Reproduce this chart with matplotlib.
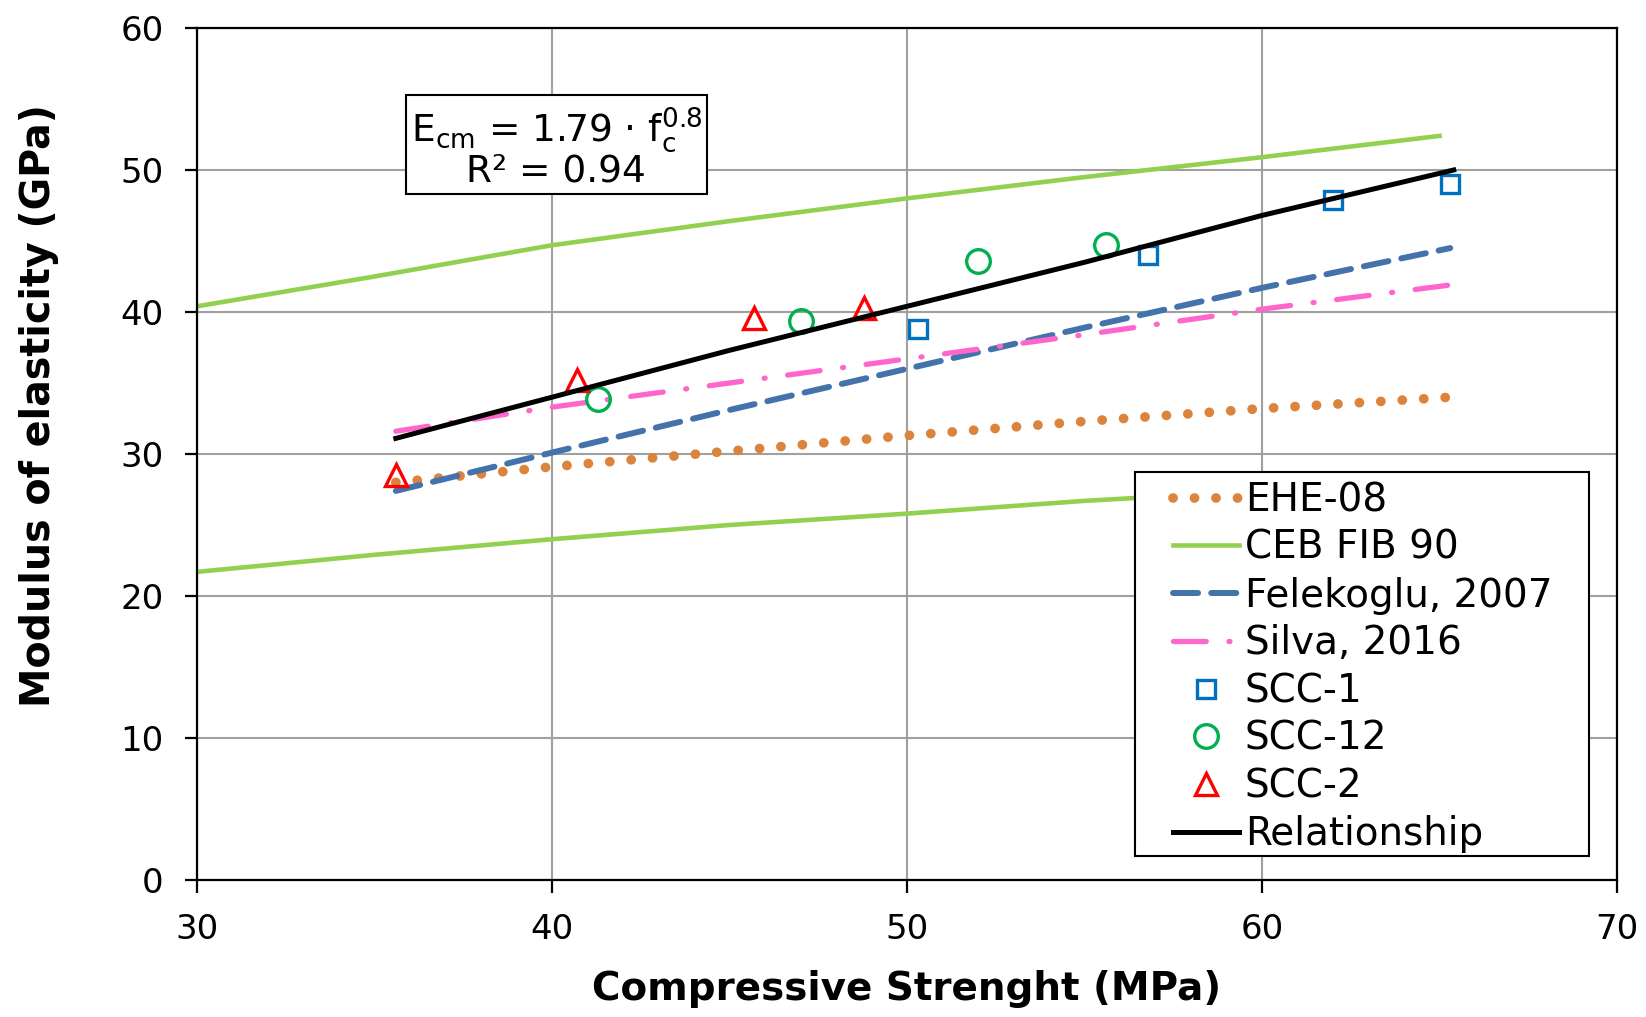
import matplotlib.pyplot as plt
from matplotlib.patches import Rectangle

plt.rcParams['font.family'] = ['DejaVu Sans']

scc1_x = [50.3, 56.8, 62.0, 65.3]
scc1_y = [38.8, 44.0, 47.9, 49.0]
scc12_x = [41.3, 47.0, 52.0, 55.6]
scc12_y = [33.9, 39.4, 43.6, 44.7]
scc2_x = [35.6, 40.7, 45.7, 48.8]
scc2_y = [28.5, 35.2, 39.6, 40.3]

# code / literature curves
ehe_x = [35.6, 40, 45, 50, 55, 60, 65.3]
ehe_y = [28.0, 29.1, 30.2, 31.3, 32.3, 33.2, 34.0]
ceb_x = [30, 35, 40, 45, 50, 55, 60, 65]
ceb_hi = [40.4, 42.5, 44.7, 46.4, 48.0, 49.5, 50.9, 52.4]
ceb_lo = [21.7, 22.9, 24.0, 25.0, 25.8, 26.7, 27.4, 28.1]
fel_x = [35.6, 40, 45, 50, 55, 60, 65.3]
fel_y = [27.4, 30.1, 33.1, 36.0, 38.9, 41.7, 44.5]
sil_x = [35.6, 40, 45, 50, 55, 60, 65.3]
sil_y = [31.6, 33.3, 35.0, 36.7, 38.4, 40.2, 41.9]
rel_x = [35.6, 40, 45, 50, 55, 60, 65.4]
rel_y = [31.1, 34.0, 37.3, 40.4, 43.5, 46.8, 50.0]

fig = plt.figure(figsize=(16.46, 10.17), dpi=100)
ax = fig.add_axes([0.1197, 0.1347, 0.8627, 0.8378])

ax.plot(ehe_x, ehe_y, color='#DD843C', lw=7, dashes=(0.01, 2.2),
        dash_capstyle='round', label='EHE-08')
ax.plot(ceb_x, ceb_hi, color='#92D050', lw=3.3, label='CEB FIB 90')
ax.plot(ceb_x, ceb_lo, color='#92D050', lw=3.3)
ax.plot(fel_x, fel_y, color='#4472AA', lw=4.3, dashes=(4.2, 2.2),
        dash_capstyle='round', label='Felekoglu, 2007')
ax.plot(sil_x, sil_y, color='#FF66CC', lw=3.8, dashes=(6.2, 4.3, 0.2, 4.3),
        dash_capstyle='round', label='Silva, 2016')
ax.plot(scc1_x, scc1_y, ls='none', marker='s', ms=13.5, mfc='none',
        mec='#0070C0', mew=2.4, label='SCC-1')
ax.plot(scc12_x, scc12_y, ls='none', marker='o', ms=17, mfc='none',
        mec='#00B050', mew=2.4, label='SCC-12')
ax.plot(scc2_x, scc2_y, ls='none', marker='^', ms=15.5, mfc='none',
        mec='#FF0000', mew=2.4, label='SCC-2')
ax.plot(rel_x, rel_y, color='black', lw=3.6, label='Relationship')

ax.set_xlim(30, 70)
ax.set_ylim(0, 60)
ax.set_xticks(range(30, 71, 10))
ax.set_yticks(range(0, 61, 10))
ax.grid(True, color='#A0A0A0', lw=1.5)
ax.set_axisbelow(True)
for s in ax.spines.values():
    s.set_color('black')
    s.set_linewidth(1.6)
ax.tick_params(labelsize=24.5, length=9, width=1.6, direction='out', pad=15)

ax.set_xlabel('Compressive Strenght (MPa)', fontsize=28, fontweight='bold')
ax.set_ylabel('Modulus of elasticity (GPa)', fontsize=28.5, fontweight='bold')
ax.xaxis.set_label_coords(0.5, -0.106)
ax.yaxis.set_label_coords(-0.097, 0.557)

ax.text(40.12, 51.6,
        r'E$_{\mathregular{cm}}$ = 1.79 · f$_{\mathregular{c}}^{\mathregular{0.8}}$'
        + '\nR² = 0.94',
        fontsize=27, ha='center', va='center', linespacing=1.0,
        bbox=dict(boxstyle='square,pad=0.12', fc='white', ec='black', lw=1.5))

# legend frame drawn separately so the box matches the original
ax.add_patch(Rectangle((0.6606, 0.028), 0.3197, 0.451, transform=ax.transAxes,
                       fc='white', ec='black', lw=1.5, zorder=4.5))
ax.legend(loc='upper left', bbox_to_anchor=(0.6873, 0.468), frameon=False,
          fontsize=28, borderpad=0, borderaxespad=0, handlelength=1.7,
          handletextpad=0.15, labelspacing=0.25)

fig.savefig('out.png', dpi=100)
